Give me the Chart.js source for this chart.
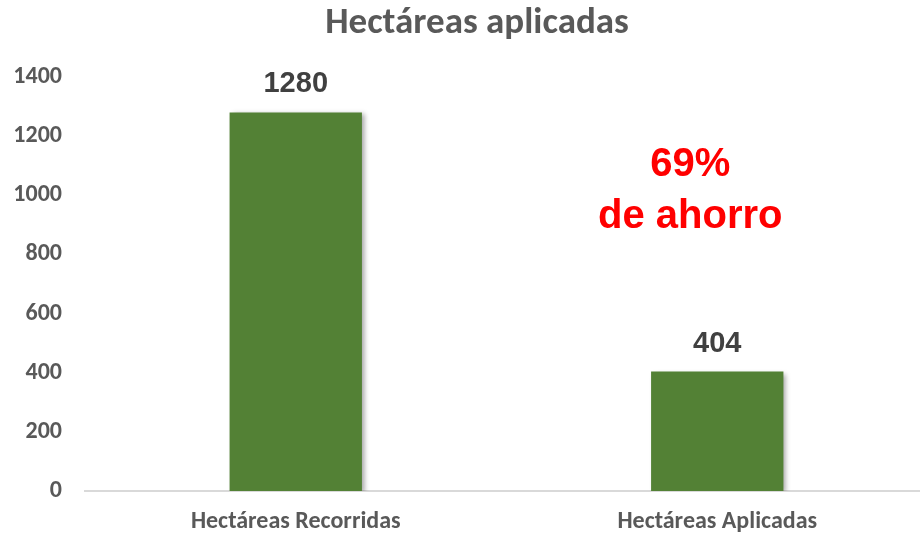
<!DOCTYPE html>
<html>
<head>
<meta charset="utf-8">
<script src="https://cdn.jsdelivr.net/npm/chart.js@4.4.1/dist/chart.umd.min.js"></script>
<style>
  html, body { margin: 0; padding: 0; background: #fff; overflow: hidden; }
  #wrap { width: 928px; height: 537px; }
</style>
</head>
<body>
<div id="wrap"><canvas id="chart"></canvas></div>
<script>
  const categories = ["Hectáreas Recorridas", "Hectáreas Aplicadas"];
  const hectares = [1280, 404];
  const yTicks = [0, 200, 400, 600, 800, 1000, 1200, 1400];
  const savingLines = ["69%", "de ahorro"];
  const chartTitle = "Hectáreas aplicadas";

  const narrow = "Carlito, 'Liberation Sans Narrow', 'DejaVu Sans Condensed', sans-serif";
  const arial = "'Liberation Sans', Arial, sans-serif";

  // soft shadow on the right/bottom of the bars, like the office chart
  const barShadow = {
    id: "barShadow",
    beforeDatasetDraw(chart) {
      const ctx = chart.ctx;
      ctx.save();
      ctx.shadowColor = "rgba(0,0,0,0.35)";
      ctx.shadowBlur = 5;
      ctx.shadowOffsetX = 3;
      ctx.shadowOffsetY = 2;
    },
    afterDatasetDraw(chart) {
      chart.ctx.restore();
    },
  };

  // title (sits a bit right of centre in the original), value labels and
  // the red saving note
  const labels = {
    id: "labels",
    afterDatasetsDraw(chart) {
      const ctx = chart.ctx;
      const meta = chart.getDatasetMeta(0);
      ctx.save();
      ctx.textAlign = "center";

      ctx.textBaseline = "middle";
      ctx.fillStyle = "#595959";
      ctx.font = "bold 37px " + narrow;
      ctx.fillText(chartTitle, chart.width * 0.514, 24);

      ctx.textBaseline = "alphabetic";
      ctx.fillStyle = "#404040";
      ctx.font = "bold 29px " + arial;
      meta.data.forEach((bar, i) => {
        ctx.fillText(String(hectares[i]), bar.x, bar.y - 20);
      });

      const area = chart.chartArea;
      const x = area.left + (area.right - area.left) * 0.718;
      ctx.fillStyle = "#ff0000";
      ctx.font = "bold 40px " + arial;
      ctx.fillText(savingLines[0], x, area.top + 99);
      ctx.fillText(savingLines[1], x, area.top + 151);
      ctx.restore();
    },
  };

  new Chart(document.getElementById("chart"), {
    type: "bar",
    plugins: [barShadow, labels],
    data: {
      labels: categories,
      datasets: [
        {
          label: "Hectáreas",
          data: hectares,
          backgroundColor: "#538135",
          categoryPercentage: 1,
          barPercentage: 0.314,
        },
      ],
    },
    options: {
      animation: false,
      responsive: true,
      maintainAspectRatio: false,
      layout: { padding: { top: 77, left: 0, right: 0, bottom: 0 } },
      plugins: {
        legend: { display: false },
        tooltip: { enabled: false },
        title: { display: false },
      },
      scales: {
        x: {
          grid: { display: false, drawTicks: false },
          border: { color: "#d9d9d9", width: 2 },
          afterFit: (scale) => {
            scale.height = 46;
          },
          ticks: {
            color: "#595959",
            font: { family: narrow, size: 24, weight: "bold" },
            padding: 17,
          },
        },
        y: {
          min: 0,
          max: 1400,
          afterBuildTicks: (axis) => {
            axis.ticks = yTicks.map((v) => ({ value: v }));
          },
          afterFit: (scale) => {
            scale.width = 85;
          },
          grid: { display: false, drawTicks: false },
          border: { display: false },
          ticks: {
            color: "#595959",
            font: { family: narrow, size: 24, weight: "bold" },
            padding: 23,
            callback: (v) => String(v),
          },
        },
      },
    },
  });
</script>
</body>
</html>
